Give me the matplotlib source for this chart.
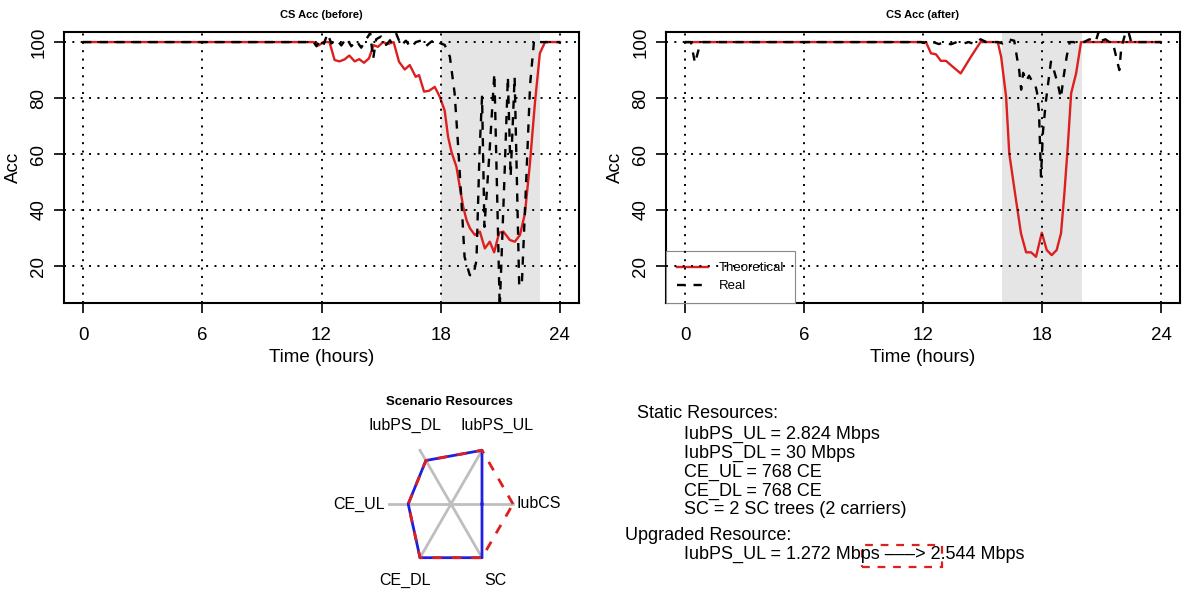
import matplotlib
matplotlib.use("Agg")
import matplotlib.pyplot as plt
import numpy as np
from matplotlib.patches import Rectangle

plt.rcParams["font.family"] = ["Liberation Sans", "DejaVu Sans"]

# ---- CS accessibility, before upgrade ----
before_theo_t = [0, 11.6, 11.85, 12.1, 12.4, 12.66, 12.9, 13.16, 13.4, 13.67, 13.9, 14.14,
                 14.39, 14.62, 14.84, 15.1, 15.35, 15.63, 15.9, 16.19, 16.44, 16.74, 16.91,
                 17.16, 17.41, 17.7, 17.95, 18.2, 18.37, 18.54, 18.79, 18.96, 19.13, 19.3,
                 19.47, 19.72, 19.97, 20.22, 20.47, 20.69, 20.94, 21.15, 21.48, 21.73, 21.99,
                 22.24, 22.49, 22.74, 22.99, 23.25, 24]
before_theo_v = [100, 100, 98.8, 100, 100, 93.6, 93.1, 93.8, 95.2, 93.1, 93.9, 92.6,
                 94.2, 98.9, 98.3, 100, 99.3, 100, 93.0, 90.2, 91.8, 87.6, 88.2,
                 82.3, 82.6, 84.0, 80.5, 75.5, 66.2, 60.8, 55.5, 48.3, 41.2, 36.4,
                 33.5, 31.1, 32.3, 26.3, 28.7, 24.9, 31.9, 32.3, 29.3, 28.7, 31.1,
                 38.8, 56.7, 78.1, 96.0, 100, 100]

before_real_t = [0, 11.6, 11.75, 11.9, 12.1, 12.3, 12.5, 12.75, 13.0, 13.25, 13.5, 13.75,
                 14.0, 14.25, 14.45, 14.6, 14.75, 15.0, 15.25, 15.5, 15.75, 16.0, 16.25,
                 16.5, 16.75, 17.0, 17.25, 17.5, 17.75, 18.0, 18.2, 18.46, 18.7, 18.88,
                 19.05, 19.2, 19.46, 19.63, 19.8, 19.95, 20.08, 20.2, 20.45, 20.7, 20.97,
                 21.2, 21.38, 21.52, 21.72, 21.95, 22.08, 22.3, 22.5, 22.7, 22.9, 24]
before_real_v = [100, 100, 98.5, 100.5, 99, 103, 99.5, 101, 98.8, 101.5, 98.5, 100.5,
                 98.0, 101, 103.2, 94.0, 101, 102, 99, 101, 103.2, 98.8, 100.5,
                 98.0, 100, 100.5, 98.5, 100, 101, 99.5, 99, 94.8, 81.7, 62.6,
                 42.4, 23.3, 16.8, 16.5, 22, 60, 80.5, 34, 60, 88.8, 5,
                 50, 87.6, 52, 87.6, 13, 13, 50, 85, 100.7, 100, 100]

# ---- CS accessibility, after upgrade ----
after_theo_t = [0, 12.15, 12.4, 12.66, 12.9, 13.16, 13.4, 13.9, 14.42, 14.9, 15.77, 15.94,
                16.19, 16.35, 16.69, 16.94, 17.2, 17.45, 17.7, 17.99, 18.24, 18.49, 18.74,
                18.96, 19.13, 19.3, 19.47, 19.72, 19.97, 24]
after_theo_v = [100, 100, 96.0, 95.6, 93.3, 93.3, 91.8, 88.8, 94.8, 100, 100, 94.8,
                80.5, 60.2, 43.6, 31.7, 24.9, 24.9, 23.3, 31.9, 25.7, 23.9, 25.7,
                31.7, 46.0, 62.6, 81.7, 88.8, 100, 100]

after_real_t = [0, 0.3, 0.5, 0.75, 0.9, 11.9, 12.2, 12.5, 12.8, 13.1, 13.4, 13.7, 14.0,
                14.3, 14.6, 14.9, 15.2, 15.8, 16.0, 16.3, 16.6, 16.75, 16.85, 16.95, 17.05,
                17.2, 17.35, 17.5, 17.65, 17.75, 17.85, 17.95, 18.05, 18.2, 18.45, 18.6,
                18.8, 18.95, 19.1, 19.25, 19.4, 19.6, 19.8, 20.1, 20.4, 20.7, 20.85, 21.0,
                21.2, 21.4, 21.6, 21.8, 21.9, 22.0, 22.2, 22.35, 22.5, 24]
after_real_v = [100, 100, 92.5, 99, 100, 100, 99.5, 100, 99.3, 100, 99.2, 100, 99.4,
                100, 99.3, 101, 100, 100, 99.5, 101, 100.5, 94, 90, 83, 89,
                86, 88, 86, 85, 82, 75, 52, 68, 79, 93, 90,
                85, 80, 88, 95, 100, 100, 99.5, 100, 101, 100, 103.5, 100.5,
                101, 100, 99, 93, 90, 98, 103, 104, 100, 100]

busy_before = (18, 23)
busy_after = (16, 20)

# ---- radar: scenario resources ----
radar_axes = ["IubCS", "IubPS_UL", "IubPS_DL", "CE_UL", "CE_DL", "SC"]
radar_before = [0.5, 1.0, 0.81, 0.69, 1.0, 1.0]
radar_after = [1.0, 1.0, 0.81, 0.69, 1.0, 1.0]

static_lines = ["IubPS_UL = 2.824 Mbps", "IubPS_DL = 30 Mbps", "CE_UL = 768 CE",
                "CE_DL = 768 CE", "SC = 2 SC trees (2 carriers)"]
upgrade_line = "IubPS_UL = 1.272 Mbps \u2013\u2013\u2013> 2.544 Mbps"

RED = "#dd1f1f"
W, H = 1200, 616


def px(x, y):
    return x / W, 1 - y / H


def acc_panel(ax, theo_t, theo_v, real_t, real_v, busy, title, legend=False):
    ax.axvspan(*busy, color="#e5e5e5", lw=0, zorder=0)
    ax.plot(theo_t, theo_v, color=RED, lw=1.7, zorder=2, label="Theoretical")
    ax.plot(real_t, real_v, color="black", lw=1.7, ls=(0, (3.5, 3.5)), zorder=2,
            label="Real")
    for xv in [0, 6, 12, 18, 24]:
        ax.axvline(xv, color="black", lw=1.4, ls=(0, (1, 3.3)), zorder=4)
    for yv in [20, 40, 60, 80, 100]:
        ax.axhline(yv, color="black", lw=1.4, ls=(0, (1, 3.3)), zorder=4)
    ax.set_xlim(-0.96, 24.96)
    ax.set_ylim(6.8, 103.6)
    ax.set_xticks([0, 6, 12, 18, 24])
    ax.set_yticks([20, 40, 60, 80, 100])
    ax.tick_params(axis="both", direction="out", length=7, width=1.2, labelsize=13.5)
    ax.tick_params(axis="x", pad=10)
    ax.tick_params(axis="y", pad=5)
    for lbl in ax.get_yticklabels():
        lbl.set_rotation(90)
        lbl.set_va("center")
    for s in ax.spines.values():
        s.set_linewidth(1.5)
    ax.set_xlabel("Time (hours)", fontsize=13.5, labelpad=4)
    ax.set_ylabel("Acc", fontsize=13.5, labelpad=6)
    ax.set_title(title, fontsize=8, fontweight="bold", pad=10)
    if legend:
        leg = ax.legend(loc="lower left", bbox_to_anchor=(0, 0), borderaxespad=0,
                        fontsize=9.5, fancybox=False, edgecolor="#888888",
                        handlelength=2.4, borderpad=0.8, labelspacing=0.45,
                        framealpha=1)
        leg.get_frame().set_linewidth(0.8)
        leg.set_zorder(3)


fig = plt.figure(figsize=(12, 6.16), dpi=100)
ax1 = fig.add_axes([64 / W, 1 - 303 / H, 515 / W, 271 / H])
ax2 = fig.add_axes([666 / W, 1 - 303 / H, 514 / W, 271 / H])
acc_panel(ax1, before_theo_t, before_theo_v, before_real_t, before_real_v,
          busy_before, "CS Acc (before)")
acc_panel(ax2, after_theo_t, after_theo_v, after_real_t, after_real_v,
          busy_after, "CS Acc (after)", legend=True)

# radar chart, unit radius = 62 px, centre at (451, 504)
axr = fig.add_axes([330 / W, 1 - 605 / H, 250 / W, 210 / H])
axr.set_xlim(-121 / 62, 129 / 62)
axr.set_ylim(-101 / 62, 109 / 62)
axr.axis("off")
ang = np.deg2rad(np.arange(len(radar_axes)) * 60)
for a in ang:
    axr.plot([0, np.cos(a)], [0, np.sin(a)], color="#bebebe", lw=2, zorder=1)
for vals, col, ls in [(radar_before, "#1f1fe0", "-"), (radar_after, RED, (0, (3.5, 3.5)))]:
    v = np.array(vals + vals[:1])
    a = np.append(ang, ang[0])
    axr.plot(v * np.cos(a), v * np.sin(a), color=col, lw=2, ls=ls, zorder=2)
label_xy = [(1.06, 0.0, "left"), (0.74, 1.27, "center"), (-0.74, 1.27, "center"),
            (-1.06, 0.0, "right"), (-0.74, -1.23, "center"), (0.71, -1.23, "center")]
for (lx, ly, ha), name in zip(label_xy, radar_axes):
    axr.text(lx, ly, name, ha=ha, va="center", fontsize=11.5)
axr.text(-0.02, 1.65, "Scenario Resources", ha="center", va="center",
         fontsize=9.5, fontweight="bold")

# resource text
fig.text(*px(637, 413), "Static Resources:", fontsize=13, va="center")
for i, line in enumerate(static_lines):
    fig.text(*px(684, 434 + 19 * i), line, fontsize=13, va="center")
fig.text(*px(625, 536), "Upgraded Resource:", fontsize=13, va="center")
fig.text(*px(684, 554), upgrade_line, fontsize=13, va="center")
fig.patches.append(Rectangle(px(862, 567), 80 / W, 22 / H, transform=fig.transFigure,
                             fill=False, edgecolor=RED, lw=1.6, ls=(0, (3.5, 3.5))))

fig.savefig("out.png", dpi=100)
